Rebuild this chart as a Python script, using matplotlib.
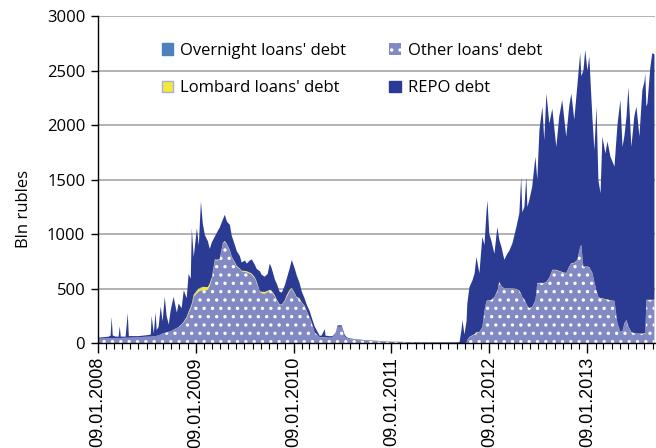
import matplotlib
matplotlib.use("Agg")
import matplotlib.pyplot as plt
import matplotlib.dates as mdates
from matplotlib.patches import Patch
import pandas as pd

# observation dates, grouped by calendar year
dates = [
    # 2008
    "2008-01-09", "2008-01-31", "2008-02-19", "2008-02-26", "2008-03-01", "2008-03-05",
    "2008-03-16", "2008-03-27", "2008-03-31", "2008-04-04", "2008-04-22", "2008-04-30",
    "2008-05-04", "2008-05-22", "2008-06-10", "2008-06-29", "2008-07-17", "2008-07-25",
    "2008-07-28", "2008-08-05", "2008-08-12", "2008-08-16", "2008-08-23", "2008-08-31",
    "2008-09-07", "2008-09-15", "2008-09-22", "2008-09-30", "2008-10-07", "2008-10-18",
    "2008-10-30", "2008-11-06", "2008-11-17", "2008-11-25", "2008-12-06", "2008-12-13",
    "2008-12-21", "2008-12-25",
    # 2009
    "2009-01-01", "2009-01-13", "2009-01-20", "2009-01-28", "2009-02-04", "2009-02-12",
    "2009-02-23", "2009-03-02", "2009-03-10", "2009-03-21", "2009-04-01", "2009-04-08",
    "2009-04-20", "2009-04-27", "2009-05-05", "2009-05-16", "2009-05-23", "2009-06-03",
    "2009-06-11", "2009-06-22", "2009-06-29", "2009-07-11", "2009-07-18", "2009-07-29",
    "2009-08-06", "2009-08-17", "2009-08-24", "2009-09-05", "2009-09-12", "2009-09-23",
    "2009-10-04", "2009-10-12", "2009-10-19", "2009-10-31", "2009-11-07", "2009-11-18",
    "2009-11-26", "2009-12-07", "2009-12-14", "2009-12-25",
    # 2010
    "2010-01-02", "2010-01-13", "2010-01-20", "2010-01-31", "2010-02-08", "2010-02-19",
    "2010-02-26", "2010-03-10", "2010-03-17", "2010-03-28", "2010-04-05", "2010-04-16",
    "2010-04-23", "2010-05-05", "2010-05-08", "2010-05-23", "2010-06-03", "2010-06-15",
    "2010-06-22", "2010-07-07", "2010-07-18", "2010-07-26", "2010-08-06", "2010-09-01",
    "2010-10-19", "2011-01-01",
    # 2011
    "2011-03-17", "2011-05-31", "2011-07-26", "2011-09-08", "2011-09-20", "2011-09-27",
    "2011-10-01", "2011-10-08", "2011-10-16", "2011-10-19", "2011-10-27", "2011-11-07",
    "2011-11-15", "2011-11-22", "2011-12-03", "2011-12-14", "2011-12-22", "2011-12-29",
    # 2012
    "2012-01-02", "2012-01-09", "2012-01-16", "2012-01-28", "2012-02-08", "2012-02-15",
    "2012-02-23", "2012-03-05", "2012-03-16", "2012-03-24", "2012-04-04", "2012-04-19",
    "2012-04-30", "2012-05-07", "2012-05-11", "2012-05-19", "2012-05-26", "2012-05-30",
    "2012-06-06", "2012-06-17", "2012-06-29", "2012-07-06", "2012-07-14", "2012-07-25",
    "2012-08-01", "2012-08-09", "2012-08-20", "2012-08-31", "2012-09-15", "2012-09-26",
    "2012-10-07", "2012-10-22", "2012-11-02", "2012-11-10", "2012-11-21", "2012-12-02",
    "2012-12-13", "2012-12-17", "2012-12-25",
    # 2013
    "2013-01-01", "2013-01-09", "2013-01-16", "2013-01-28", "2013-02-04", "2013-02-12",
    "2013-02-19", "2013-02-27", "2013-03-06", "2013-03-17", "2013-03-25", "2013-04-05",
    "2013-04-20", "2013-05-01", "2013-05-12", "2013-05-20", "2013-05-27", "2013-06-04",
    "2013-06-11", "2013-06-22", "2013-07-03", "2013-07-11", "2013-07-22", "2013-08-02",
    "2013-08-10", "2013-08-13", "2013-08-17", "2013-08-21", "2013-09-01", "2013-09-08",
    "2013-09-16",
]

other = [
    40, 45, 45, 45, 45, 45, 45, 48, 48, 48, 50, 50, 50, 52, 55, 58, 60, 60, 62, 65,
    65, 68, 72, 80, 90, 95, 100, 105, 110, 125, 140, 150, 170, 190, 230, 275, 320, 350,
    425, 460, 475, 485, 485, 485, 490, 530, 595, 760, 760, 770, 915, 930, 905, 850, 790, 740, 700, 680,
    660, 655, 650, 640, 630, 595, 560, 470, 460, 455, 470, 485, 470, 430, 395, 350, 350, 390, 425, 480,
    500, 455, 420, 400, 370, 340, 300, 230, 190, 100, 80, 55, 55, 55, 52, 50, 50, 100, 150, 150,
    60, 45, 38, 30, 20, 12,
    8, 4, 2, 0, 0, 0, 0, 0, 5, 30, 55, 70, 80, 100, 100, 145, 300, 380,
    390, 390, 395, 420, 480, 560, 520, 500, 500, 500, 500, 495, 480, 450, 420, 400, 360, 340, 320, 330,
    390, 550, 550, 550, 550, 560, 600, 670, 670, 660, 650, 640, 700, 730, 735, 760, 880, 900, 700,
    700, 700, 695, 640, 560, 480, 420, 410, 410, 400, 400, 390, 385, 180, 100, 110, 180, 210, 150, 100,
    90, 85, 85, 85, 90, 90, 395, 395, 395, 395, 395,
]

lombard = [
    0, 0, 0, 0, 0, 0, 0, 0, 0, 0, 0, 0, 0, 0, 0, 0, 0, 0, 0, 0,
    0, 0, 0, 0, 0, 0, 0, 0, 0, 0, 0, 0, 2, 5, 8, 10, 12, 10,
    15, 20, 25, 20, 30, 30, 25, 20, 12, 8, 5, 5, 5, 8, 5, 5, 5, 5, 8, 5,
    5, 8, 10, 8, 8, 10, 6, 5, 12, 15, 10, 6, 12, 8, 5, 5, 5, 6, 15, 10,
    8, 5, 5, 12, 5, 4, 3, 2, 2, 1, 1, 1, 1, 1, 1, 1, 1, 1, 1, 1,
    1, 1, 1, 1, 1, 1,
    0, 0, 0, 0, 0, 0, 0, 0, 0, 2, 3, 3, 3, 3, 3, 3, 3, 3,
    3, 3, 3, 3, 3, 3, 3, 3, 3, 3, 3, 3, 3, 3, 3, 3, 3, 3, 3, 3,
    3, 3, 3, 3, 3, 3, 3, 3, 3, 3, 3, 3, 3, 3, 3, 3, 3, 3, 3,
    3, 3, 3, 3, 3, 3, 3, 3, 3, 3, 3, 3, 3, 3, 3, 3, 3, 3, 3, 3,
    3, 3, 3, 3, 3, 3, 3, 3, 3, 3, 3,
]

overnight = [
    0, 0, 0, 0, 0, 0, 0, 0, 0, 0, 0, 0, 0, 0, 0, 0, 0, 0, 0, 0,
    0, 0, 0, 0, 0, 0, 0, 0, 0, 0, 0, 0, 3, 5, 5, 5, 5, 5,
    5, 5, 5, 5, 3, 0, 0, 0, 0, 0, 0, 0, 0, 0, 0, 0, 0, 0, 0, 0,
    0, 0, 0, 0, 0, 0, 0, 0, 0, 0, 0, 0, 0, 0, 0, 0, 0, 0, 0, 0,
    0, 0, 0, 0, 0, 0, 0, 0, 0, 0, 0, 0, 0, 0, 0, 0, 0, 0, 0, 0,
    0, 0, 0, 0, 0, 0,
    0, 0, 0, 0, 0, 0, 0, 0, 0, 0, 0, 0, 0, 0, 0, 0, 0, 0,
    0, 0, 0, 0, 0, 0, 0, 0, 0, 0, 0, 0, 0, 0, 0, 0, 0, 0, 0, 0,
    0, 0, 0, 0, 0, 0, 0, 0, 0, 0, 0, 0, 0, 0, 0, 0, 0, 0, 0,
    0, 0, 0, 0, 0, 0, 0, 0, 0, 0, 0, 0, 0, 0, 0, 0, 0, 0, 0, 0,
    0, 0, 0, 0, 0, 0, 0, 0, 0, 0, 0,
]

repo = [
    10, 10, 15, 25, 195, 25, 15, 12, 107, 12, 10, 225, 15, 13, 10, 12, 15, 20, 188, 25,
    215, 52, 78, 255, 110, 330, 150, 65, 190, 300, 140, 215, 145, 285, 170, 345, 255, 685,
    345, 570, 390, 790, 575, 475, 420, 315, 320, 210, 265, 285, 215, 240, 205, 230, 190, 160, 135, 115,
    75, 95, 70, 110, 130, 115, 115, 185, 155, 140, 155, 240, 205, 145, 145, 115, 110, 135, 150, 195,
    255, 225, 200, 140, 100, 65, 55, 60, 45, 55, 37, 13, 13, 73, 16, 13, 13, 0, 13, 13,
    18, 8, 5, 4, 4, 2,
    2, 2, 3, 5, 10, 120, 210, 80, 195, 333, 457, 502, 557, 687, 537, 827, 597, 807,
    917, 607, 547, 397, 582, 387, 362, 262, 317, 347, 412, 567, 707, 1072, 777, 847, 1162, 907, 987, 1102,
    1317, 947, 1402, 1617, 1307, 1727, 1412, 1477, 1127, 1417, 1577, 1252, 1467, 1557, 1312, 1587, 1777, 1547, 1797,
    1987, 1797, 1932, 1407, 1207, 1687, 1072, 962, 1482, 1337, 1447, 1317, 1232, 1817, 2127, 1687, 1717, 1867, 2197, 1697,
    1987, 2082, 1807, 2232, 2307, 2382, 1772, 1802, 2137, 2262, 2252,
]

labels = ["Other loans' debt", "Lombard loans' debt", "Overnight loans' debt", "REPO debt"]
colors = ["#8389C2", "#F2EA3A", "#4F81BD", "#2B3A92"]

assert len(dates) == len(other) == len(lombard) == len(overnight) == len(repo)

x = pd.to_datetime(dates)

plt.rcParams["hatch.linewidth"] = 1.2
fig = plt.figure(figsize=(6.56, 4.48), dpi=100)
ax = fig.add_axes([0.149, 0.234, 0.849, 0.730])

polys = ax.stackplot(x, other, lombard, overnight, repo, colors=colors, linewidth=0)
polys[0].set_hatch("..")
polys[0].set_edgecolor("white")
polys[0].set_linewidth(0)

ax.set_ylim(0, 3000)
ax.set_yticks(range(0, 3001, 500))
ax.set_xlim(pd.Timestamp("2008-01-09"), pd.Timestamp("2013-09-17"))
ax.yaxis.grid(True, color="#A6A6A6", linewidth=1.2)
ax.set_axisbelow(True)

ax.xaxis.set_major_locator(mdates.YearLocator(base=1, month=1, day=9))
ax.xaxis.set_minor_locator(mdates.MonthLocator(bymonthday=9))
ax.xaxis.set_major_formatter(mdates.DateFormatter("%d.%m.%Y"))

for s in ("top", "right"):
    ax.spines[s].set_visible(False)
for s in ("left", "bottom"):
    ax.spines[s].set_color("black")
    ax.spines[s].set_linewidth(1.0)

ax.tick_params(axis="y", length=5, width=1, labelsize=12, pad=4)
ax.tick_params(axis="x", which="major", length=7, width=1, pad=3)
ax.tick_params(axis="x", which="minor", length=4, width=0.8)
for lab in ax.get_yticklabels():
    lab.set_fontfamily("Open Sans")
for lab in ax.get_xticklabels():
    lab.set_fontfamily("Liberation Sans")
    lab.set_fontsize(13)
    lab.set_rotation(90)

ax.set_ylabel("Bln rubles", fontsize=12, family="Open Sans")
ax.yaxis.set_label_coords(-0.118, 0.41)

handles = [
    Patch(facecolor=colors[2], edgecolor=colors[2], label=labels[2]),
    Patch(facecolor=colors[1], edgecolor="#A9AEDB", label=labels[1]),
    Patch(facecolor=colors[0], edgecolor="white", hatch="..", linewidth=0, label=labels[0]),
    Patch(facecolor=colors[3], edgecolor=colors[3], label=labels[3]),
]
ax.legend(
    handles=handles,
    ncol=2,
    loc="upper left",
    bbox_to_anchor=(0.088, 0.965),
    frameon=False,
    prop={"family": "Open Sans", "size": 12},
    handlelength=0.7,
    handleheight=0.7,
    handletextpad=0.4,
    columnspacing=2.6,
    labelspacing=1.3,
)

fig.savefig("out.png", dpi=100)
